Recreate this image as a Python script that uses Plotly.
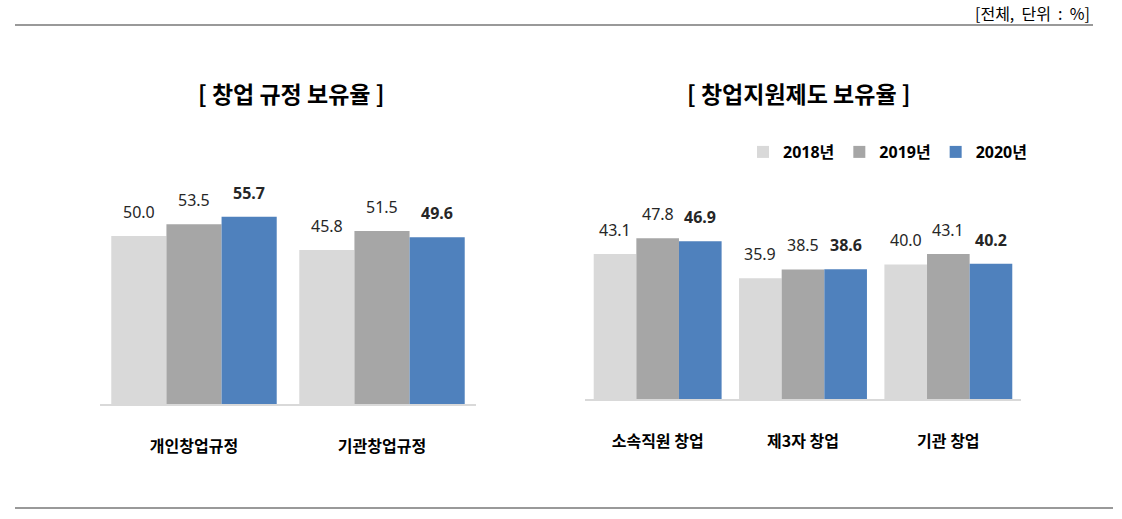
import plotly.graph_objects as go

years = ["2018년", "2019년", "2020년"]
colors = ["#d9d9d9", "#a6a6a6", "#4f81bd"]

left_cats = ["개인창업규정", "기관창업규정"]
left_2018 = [50.0, 45.8]
left_2019 = [53.5, 51.5]
left_2020 = [55.7, 49.6]

right_cats = ["소속직원 창업", "제3자 창업", "기관 창업"]
right_2018 = [43.1, 35.9, 40.0]
right_2019 = [47.8, 38.5, 43.1]
right_2020 = [46.9, 38.6, 40.2]

left_title = "[ 창업 규정 보유율 ]"
right_title = "[ 창업지원제도 보유율 ]"
unit_text = "[전체,  단위  :  %]"

W, H = 1122, 519
FONT = "Noto Sans, Noto Sans CJK KR, sans-serif"
KFONT = "Noto Sans CJK KR, Noto Sans, sans-serif"

def px(x):
    return x / W

def py(y):
    return 1 - y / H

fig = go.Figure()

left_vals = [left_2018, left_2019, left_2020]
right_vals = [right_2018, right_2019, right_2020]

annotations = []

def add_group(cats, vals, xa, ya, bar_px):
    for i, (yr, col) in enumerate(zip(years, colors)):
        fig.add_trace(go.Bar(
            x=cats, y=vals[i], name="<b>" + yr + "</b>",
            marker=dict(color=col, line=dict(width=0)),
            xaxis=xa, yaxis=ya, showlegend=(xa == "x2"), legendgroup=yr,
        ))
        for c, v in zip(cats, vals[i]):
            txt = f"{v:.1f}"
            if i == 2:
                txt = "<b>" + txt + "</b>"
            annotations.append(dict(
                x=c, y=v, xref=xa, yref=ya, text=txt, showarrow=False,
                xshift=(i - 1) * bar_px, yshift=11, xanchor="center", yanchor="bottom",
                font=dict(size=16, color="#262626", family=FONT),
            ))

add_group(left_cats, left_vals, "x", "y", 55.0)
add_group(right_cats, right_vals, "x2", "y2", 42.6)

annotations += [
    dict(text="<b>" + left_title + "</b>", x=px(291), y=py(93), xref="paper", yref="paper",
         showarrow=False, font=dict(size=23, color="#000", family=KFONT), xanchor="center", yanchor="middle"),
    dict(text="<b>" + right_title + "</b>", x=px(799), y=py(93), xref="paper", yref="paper",
         showarrow=False, font=dict(size=23, color="#000", family=KFONT), xanchor="center", yanchor="middle"),
    dict(text=unit_text, x=px(1092), y=py(13), xref="paper", yref="paper",
         showarrow=False, font=dict(size=16, color="#000", family=KFONT), xanchor="right", yanchor="middle"),
]

axis_common = dict(showgrid=False, zeroline=False, showticklabels=False, ticks="")
xcommon = dict(showgrid=False, zeroline=False, showline=True, linecolor="#d9d9d9", linewidth=2,
               ticks="", tickfont=dict(size=16, color="#000", family=KFONT),
               ticklabelstandoff=27, tickprefix="<b>", ticksuffix="</b>")
fig.update_layout(
    width=W, height=H, margin=dict(l=0, r=0, t=0, b=0),
    paper_bgcolor="white", plot_bgcolor="white",
    barmode="group", bargap=0.12, bargroupgap=0,
    font=dict(family=KFONT, color="#000"),
    xaxis=dict(domain=[px(100), px(476)], anchor="y", **xcommon),
    yaxis=dict(domain=[py(404), py(175)], range=[0, 229 / 3.36], anchor="x", **axis_common),
    xaxis2=dict(domain=[px(585), px(1021)], anchor="y2", **xcommon),
    yaxis2=dict(domain=[py(399), py(175)], range=[0, 224 / 3.364], anchor="x2", **axis_common),
    legend=dict(orientation="h", x=px(743), y=py(152), xanchor="left", yanchor="middle",
                font=dict(size=16, color="#000", family=FONT), itemwidth=30,
                traceorder="normal", bgcolor="rgba(0,0,0,0)"),
    annotations=annotations,
    shapes=[
        dict(type="line", xref="paper", yref="paper", x0=px(15), x1=px(1093), y0=py(25), y1=py(25),
             line=dict(color="#999999", width=2)),
        dict(type="line", xref="paper", yref="paper", x0=px(15), x1=px(1113), y0=py(508), y1=py(508),
             line=dict(color="#999999", width=2)),
    ],
)

fig.write_html("out.html")
